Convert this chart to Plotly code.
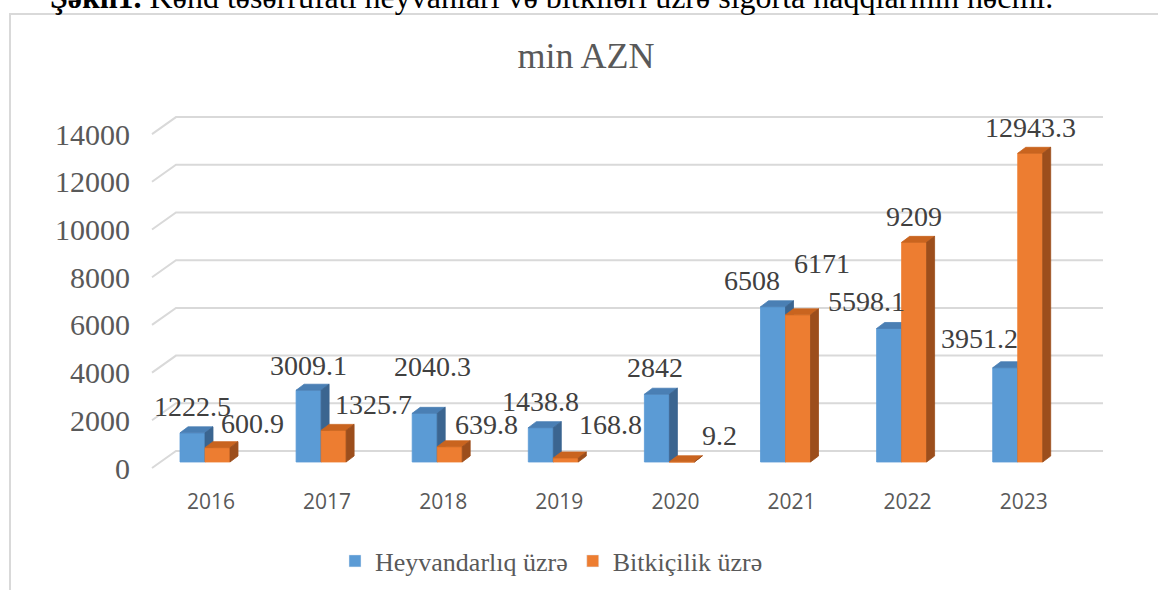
import plotly.graph_objects as go

# data
years = ["2016", "2017", "2018", "2019", "2020", "2021", "2022", "2023"]
heyvandarliq = [1222.5, 3009.1, 2040.3, 1438.8, 2842, 6508, 5598.1, 3951.2]
bitkicilik = [600.9, 1325.7, 639.8, 168.8, 9.2, 6171, 9209, 12943.3]
y_ticks = [0, 2000, 4000, 6000, 8000, 10000, 12000, 14000]

series_names = ["Heyvandarlıq üzrə", "Bitkiçilik üzrə"]

# label nudges in px (dx, dy above bar top)
blue_label_shift = [(0, 26), (0, 25), (8, 47), (0, 26), (-2, 27), (-21, 26), (-23, 27), (-26, 29)]
orange_label_shift = [(35, 24), (40, 26), (37, 22), (45, 33), (38, 26), (24, 51), (0, 26), (0, 26)]

# --- geometry (pixels -> data units) ---
W, H = 1158, 590
U = 116.1            # px per category
K = 47.7 / 2000      # px per value unit
X0PX = 205           # pixel of category 0 (blue/orange boundary)
Y0PX = 462           # pixel of value 0 at bar front
L, R, T, B = 135, 42, 100, 110
PW, PH = W - L - R, H - T - B

x_range = [(L - X0PX) / U, (W - R - X0PX) / U]
y_range = [-(H - B - Y0PX) / K, (Y0PX - T) / K]

BW = 25 / U          # bar width
DX = 8 / U           # depth x
DY = 6 / K           # depth y
FRONT_OFF = 6 / K    # gridline front edge below bar base
BACK_OFF = 11 / K    # back wall above bar base
GX_FRONT = (152 - X0PX) / U
GX_BACK = (176 - X0PX) / U
GX_END = (1103 - X0PX) / U

blue = ("#5b9bd5", "#4a7fb4", "#3b6590")
orange = ("#ed7d31", "#c9641f", "#9c4e1c")


def faces(vals, offs):
    fx, fy, tx, ty, sx, sy = [], [], [], [], [], []
    for i, v in enumerate(vals):
        a, b = i + offs, i + offs + BW
        fx += [a, b, b, a, a, None]
        fy += [0, 0, v, v, 0, None]
        tx += [a, b, b + DX, a + DX, a, None]
        ty += [v, v, v + DY, v + DY, v, None]
        sx += [b, b + DX, b + DX, b, b, None]
        sy += [0, DY, v + DY, v, 0, None]
    return (fx, fy), (tx, ty), (sx, sy)


fig = go.Figure()

# gridlines with the 3D wall bend
gx, gy = [], []
for v in y_ticks:
    gx += [GX_FRONT, GX_BACK, GX_END, None]
    gy += [v - FRONT_OFF, v + BACK_OFF, v + BACK_OFF, None]
fig.add_trace(go.Scatter(x=gx, y=gy, mode="lines", line=dict(color="#d9d9d9", width=2),
                         hoverinfo="skip", showlegend=False))

for vals, offs, cols in [(heyvandarliq, -BW, blue), (bitkicilik, 0, orange)]:
    for (px, py), col in zip(faces(vals, offs), cols):
        fig.add_trace(go.Scatter(x=px, y=py, mode="lines", fill="toself", fillcolor=col,
                                 line=dict(color=col, width=0.8), hoverinfo="skip",
                                 showlegend=False))

# legend entries
for name, cols in zip(series_names, [blue, orange]):
    fig.add_trace(go.Bar(x=[None], y=[None], name=name, marker_color=cols[0]))

# data labels
for vals, offs, shifts in [(heyvandarliq, -BW / 2, blue_label_shift),
                           (bitkicilik, BW / 2, orange_label_shift)]:
    for i, v in enumerate(vals):
        fig.add_annotation(x=i + offs, y=v, text=f"{v:g}", showarrow=False,
                           xshift=shifts[i][0], yshift=shifts[i][1],
                           xanchor="center", yanchor="middle",
                           font=dict(family="Liberation Serif", size=28, color="#404040"))

# heading (cut off at the top of the page)
fig.add_annotation(xref="paper", yref="paper", x=(48 - L) / PW,
                   y=1 + (T + 3) / PH, xanchor="left", yanchor="middle",
                   text="<b>Şəkil1.</b> Kənd təsərrüfatı heyvanları və bitkiləri üzrə sığorta haqqlarının həcmi.",
                   showarrow=False, font=dict(family="Liberation Serif", size=32, color="#000000"))

# chart frame
fig.add_shape(type="rect", xref="paper", yref="paper",
              x0=(10 - L) / PW, x1=1.2,
              y0=-0.5, y1=1 + (T - 14) / PH,
              line=dict(color="#d9d9d9", width=2), layer="below")

fig.update_layout(
    width=W, height=H,
    margin=dict(l=L, r=R, t=T, b=B, autoexpand=False),
    paper_bgcolor="white", plot_bgcolor="white",
    title=dict(text="min AZN", x=(586 - L) / PW, xref="paper", xanchor="center",
               y=1 - 55 / H, yanchor="middle",
               font=dict(family="Liberation Serif", size=36, color="#595959")),
    xaxis=dict(range=x_range, showgrid=False, zeroline=False, showline=False,
               tickvals=list(range(len(years))), ticktext=years, ticks="",
               ticklabelshift=6, ticklabelstandoff=7,
               tickfont=dict(family="Open Sans", size=21, color="#595959")),
    yaxis=dict(range=y_range, showgrid=False, zeroline=False, showline=False,
               tickvals=[v - FRONT_OFF for v in y_ticks], ticktext=[str(v) for v in y_ticks],
               ticks="", ticklabelstandoff=4,
               tickfont=dict(family="Liberation Serif", size=30, color="#595959")),
    legend=dict(orientation="h", xref="container", yref="container",
                x=335 / W, xanchor="left", y=1 - 561 / H, yanchor="middle",
                font=dict(family="Liberation Serif", size=26, color="#595959")),
    showlegend=True,
)

fig.write_html("out.html", config={"displayModeBar": False},
               post_script="document.body.style.margin='0';")
